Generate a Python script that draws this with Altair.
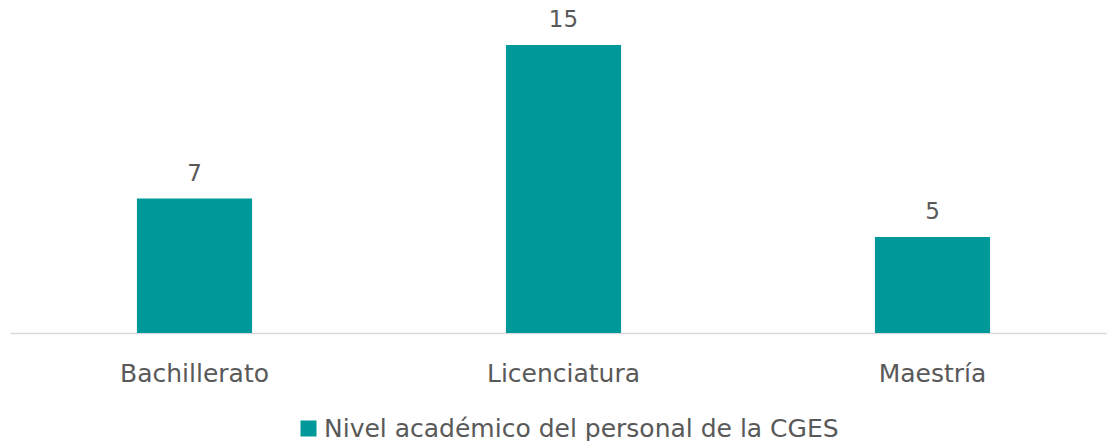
import altair as alt
import pandas as pd

categorias = ["Bachillerato", "Licenciatura", "Maestría"]
valores = [7, 15, 5]
serie = "Nivel académico del personal de la CGES"

df = pd.DataFrame({"categoria": categorias, "valor": valores, "serie": [serie] * len(categorias)})

FONT = "DejaVu Sans"
GRAY = "#595959"
TEAL = "#009999"

x = alt.X(
    "categoria:N",
    sort=categorias,
    scale=alt.Scale(range=[0, 1107], paddingInner=0.688, paddingOuter=0.344),
    axis=alt.Axis(
        title=None, labelAngle=0, ticks=False, labelPadding=28,
        labelFont=FONT, labelFontSize=25, labelColor=GRAY,
        domainColor="#D9D9D9", domainWidth=1.5, grid=False,
    ),
)
y = alt.Y("valor:Q", scale=alt.Scale(domain=[0, 333 / 19.2], nice=False), axis=None)

bars = alt.Chart(df).mark_bar(color=TEAL).encode(
    x=x,
    y=y,
    color=alt.Color(
        "serie:N",
        scale=alt.Scale(range=[TEAL]),
        legend=alt.Legend(
            title=None, orient="none", legendX=286, legendY=416,
            symbolType="square", symbolSize=256, symbolStrokeWidth=0,
            labelFont=FONT, labelFontSize=25, labelColor=GRAY, labelOffset=3,
            padding=0, labelLimit=800,
        ),
    ),
)

labels = alt.Chart(df).mark_text(
    dy=-18, baseline="alphabetic", font=FONT, fontSize=23, color=GRAY
).encode(x=x, y=y, text="valor:Q")

chart = (bars + labels).properties(
    width=1097, height=333,
    padding={"left": 10, "top": 0, "right": 0, "bottom": 108},
    autosize=alt.AutoSizeParams(type="none"),
).configure_view(stroke=None)

chart.save("out.html", embed_options={"renderer": "svg", "actions": False})
